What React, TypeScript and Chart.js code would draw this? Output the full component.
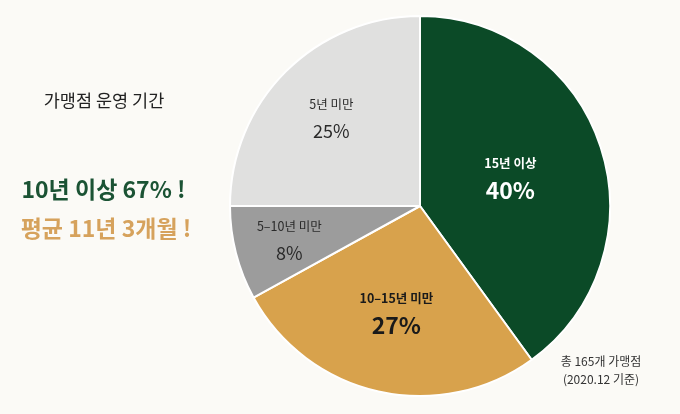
import React, { useEffect, useRef } from "react";
import { Chart, registerables } from "chart.js";

Chart.register(...registerables);

const categories = ["15년 이상", "10~15년 미만", "5~10년 미만", "5년 미만"];
const displayNames = ["15년 이상", "10–15년 미만", "5–10년 미만", "5년 미만"];
const shares = [40, 27, 8, 25];
const colors = ["#0b4a27", "#d8a24c", "#9c9c9c", "#e0e0df"];
const labelColors = ["#ffffff", "#1a1a1a", "#2a2a2a", "#2a2a2a"];
const labelBold = [true, true, false, false];
const labelRadius = [0.5, 0.57, 0.71, 0.66];

const FONT = "'Noto Sans CJK KR', 'Noto Sans', sans-serif";
const BG = "#fbfaf6";

const sliceLabels = {
  id: "sliceLabels",
  afterDatasetsDraw(chart: any) {
    const ctx = chart.ctx;
    const meta = chart.getDatasetMeta(0);
    meta.data.forEach((arc: any, i: number) => {
      const { x, y, startAngle, endAngle, outerRadius } = arc.getProps(
        ["x", "y", "startAngle", "endAngle", "outerRadius"],
        true
      );
      const mid = (startAngle + endAngle) / 2;
      const r = outerRadius * labelRadius[i];
      const cx = x + Math.cos(mid) * r;
      const cy = y + Math.sin(mid) * r;
      ctx.save();
      ctx.textAlign = "center";
      ctx.textBaseline = "middle";
      ctx.fillStyle = labelColors[i];
      const w = labelBold[i] ? "bold " : "";
      ctx.font = `${w}12.5px ${FONT}`;
      ctx.fillText(displayNames[i], cx, cy - 13);
      ctx.font = `${w}${labelBold[i] ? 23 : 18}px ${FONT}`;
      ctx.fillText(`${shares[i]}%`, cx, cy + 14);
      ctx.restore();
    });
  },
};

export default function App() {
  const ref = useRef<HTMLCanvasElement>(null);
  useEffect(() => {
    if (!ref.current) return;
    const chart = new Chart(ref.current, {
      type: "pie",
      data: {
        labels: categories,
        datasets: [
          {
            data: shares,
            backgroundColor: colors,
            borderColor: "#ffffff",
            borderWidth: 2,
          },
        ],
      },
      options: {
        responsive: false,
        animation: false,
        layout: { padding: { left: 229, right: 69, top: 15, bottom: 17 } },
        plugins: {
          legend: { display: false },
          tooltip: { enabled: false },
        },
      },
      plugins: [sliceLabels],
    });
    return () => chart.destroy();
  }, []);

  return (
    <div
      style={{
        position: "fixed",
        left: 0,
        top: 0,
        width: 680,
        height: 414,
        background: BG,
        fontFamily: FONT,
      }}
    >
      <canvas ref={ref} width={680} height={414} style={{ position: "absolute", left: 0, top: 0 }} />
      <div style={{ position: "absolute", left: 0, width: 208, top: 87, textAlign: "center", fontSize: 17.5, lineHeight: "26px", color: "#222" }}>
        가맹점 운영 기간
      </div>
      <div style={{ position: "absolute", left: 0, width: 207, top: 173, textAlign: "center", fontSize: 23, lineHeight: "30px", fontWeight: 700, color: "#1b5334" }}>
        10년 이상 67% !
      </div>
      <div style={{ position: "absolute", left: 0, width: 212, top: 212, textAlign: "center", fontSize: 23, lineHeight: "30px", fontWeight: 700, color: "#d6a25c" }}>
        평균 11년 3개월 !
      </div>
      <div style={{ position: "absolute", left: 546, width: 110, top: 352, textAlign: "center", fontSize: 12, lineHeight: "18px", color: "#333" }}>
        총 165개 가맹점
        <br />
        (2020.12 기준)
      </div>
    </div>
  );
}
